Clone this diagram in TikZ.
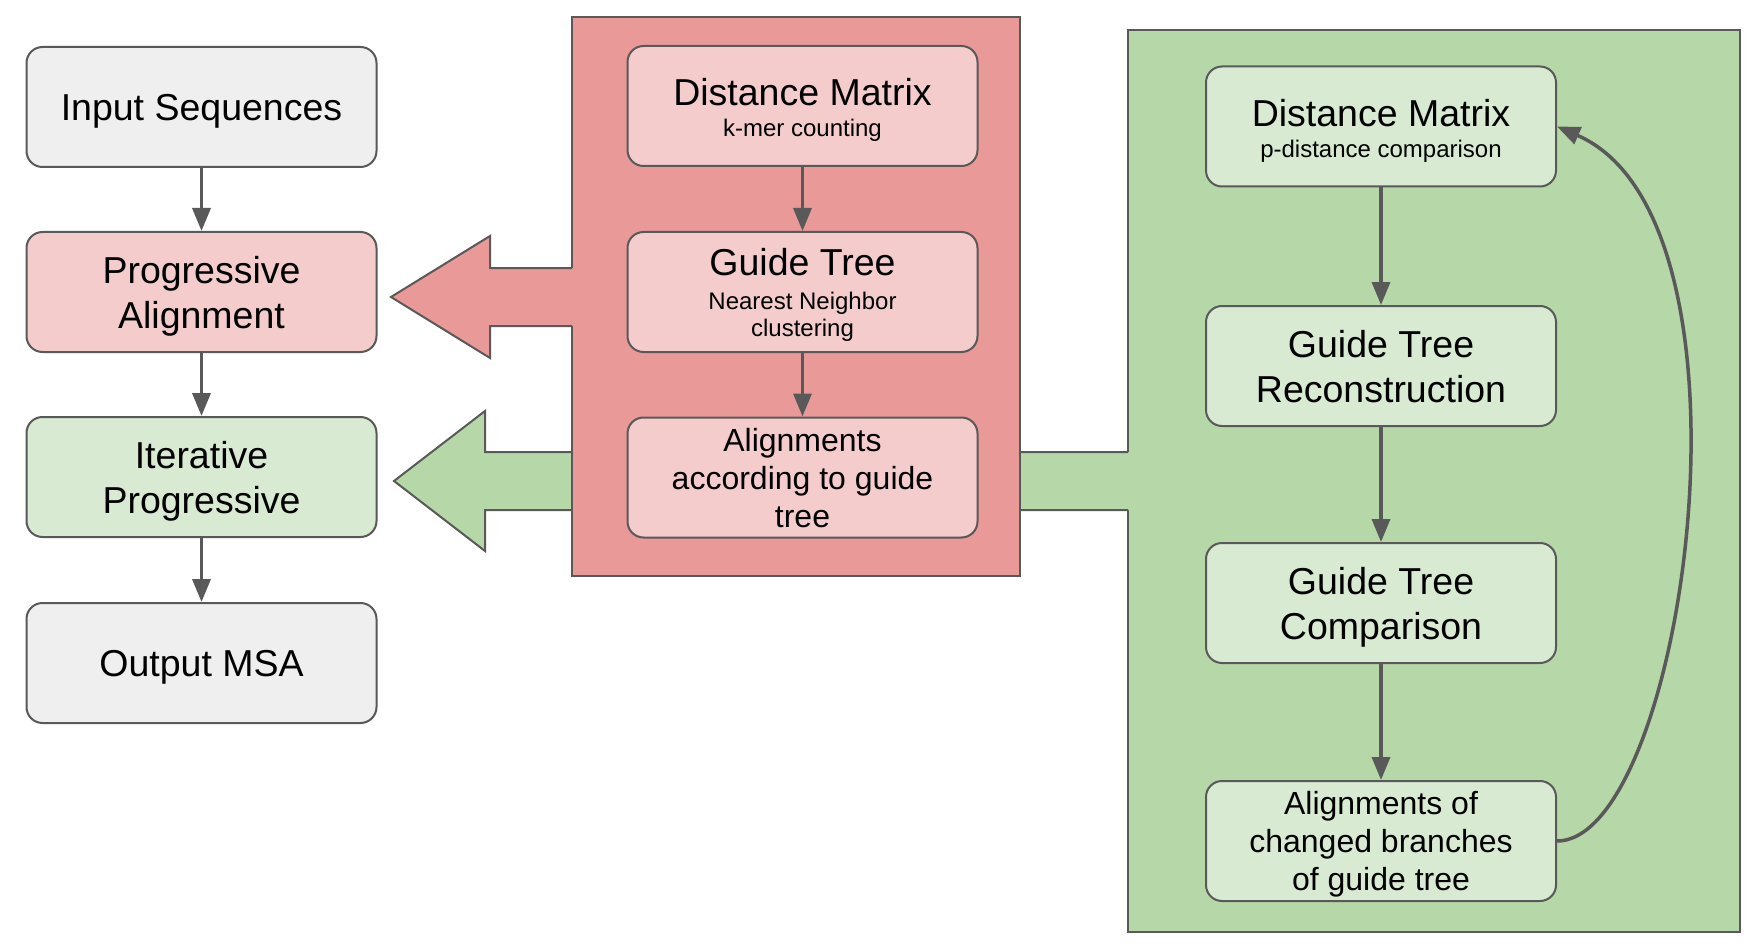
\documentclass[tikz,border=0pt]{standalone}
\usepackage{fontspec}
\setmainfont{Liberation Sans}
\usetikzlibrary{arrows.meta,calc}
\definecolor{bordc}{HTML}{595959}
\definecolor{grayf}{HTML}{EFEFEF}
\definecolor{redl}{HTML}{F4CCCC}
\definecolor{redd}{HTML}{EA9999}
\definecolor{greenl}{HTML}{D9EAD3}
\definecolor{greend}{HTML}{B6D7A8}
\begin{document}
\begin{tikzpicture}[x=1pt,y=-1pt,
  box/.style={draw=bordc, line width=2pt, rounded corners=16pt, minimum width=350pt,
    minimum height=120pt, inner sep=0pt, align=center, text depth=0pt,
    font=\fontsize{37.5}{45}\selectfont},
  smallbox/.style={box, font=\fontsize{32}{38}\selectfont},
  container/.style={draw=bordc, line width=2pt, inner sep=0pt},
  bigline/.style={draw=bordc, line width=2pt, line join=miter},
  title/.style={anchor=base, inner sep=0pt, font=\fontsize{37.5}{45}\selectfont},
  sub/.style={anchor=base, inner sep=0pt, font=\fontsize{24}{28}\selectfont},
  conn/.style={draw=bordc, line width=3.5pt, -{Triangle[length=23pt,width=18pt]}}]
\useasboundingbox (0,0) rectangle (1762,944);
\fill[white] (0,0) rectangle (1762,944);

% green container
\node[container, fill=greend, minimum width=612pt, minimum height=902pt] (gc) at (1434,481) {};
% green big arrow
\fill[greend] (1131,452) -- (485,452) -- (485,411) -- (394,481) -- (485,551) -- (485,510) -- (1131,510) -- cycle;
\draw[bigline] (1128,452) -- (485,452) -- (485,411) -- (394,481) -- (485,551) -- (485,510) -- (1128,510);

% red container
\node[container, fill=redd, minimum width=448pt, minimum height=558.5pt] (rc) at (796,296.75) {};
% red big arrow
\fill[redd] (575,268) -- (490,268) -- (490,236) -- (391,297) -- (490,358) -- (490,326) -- (575,326) -- cycle;
\draw[bigline] (572,268) -- (490,268) -- (490,236) -- (391,297) -- (490,358) -- (490,326) -- (572,326);

% left column
\node[box, fill=grayf] (in) at (201.5,107) {Input Sequences};
\node[box, fill=redl] (pa) at (201.5,292) {Progressive\\Alignment};
\node[box, fill=greenl] (ip) at (201.5,477) {Iterative\\Progressive};
\node[box, fill=grayf] (out) at (201.5,663) {Output MSA};

% red column
\node[box, fill=redl] (dm1) at (802.5,106) {};
\node[title] (dm1t) at ($(dm1.center)+(0,0)$) {Distance Matrix};
\node[sub] (dm1s) at ($(dm1.center)+(0,31)$) {k-mer counting};
\node[box, fill=redl] (gt1) at (802.5,292) {};
\node[title] (gt1t) at ($(gt1.center)+(0,-16)$) {Guide Tree};
\node[sub] (gt1s) at ($(gt1.center)+(0,17)$) {Nearest Neighbor};
\node[sub] (gt1u) at ($(gt1.center)+(0,44)$) {clustering};
\node[smallbox, fill=redl] (al1) at (802.5,477.5) {Alignments\\according to guide\\tree};

% green column
\node[box, fill=greenl] (dm2) at (1381,126.5) {};
\node[title] (dm2t) at ($(dm2.center)+(0,0)$) {Distance Matrix};
\node[sub] (dm2s) at ($(dm2.center)+(0,31)$) {p-distance comparison};
\node[box, fill=greenl] (gtr) at (1381,366) {Guide Tree\\Reconstruction};
\node[box, fill=greenl] (gtc) at (1381,603) {Guide Tree\\Comparison};
\node[smallbox, fill=greenl] (alc) at (1381,841) {Alignments of\\changed branches\\of guide tree};

% connectors
\draw[conn] (in) -- (pa);
\draw[conn] (pa) -- (ip);
\draw[conn] (ip) -- (out);
\draw[conn] (dm1) -- (gt1);
\draw[conn] (gt1) -- (al1);
\draw[conn] (dm2) -- (gtr);
\draw[conn] (gtr) -- (gtc);
\draw[conn] (gtc) -- (alc);
\draw[conn] (alc.east) .. controls (1684,841) and (1772,220) .. (dm2.east);
\end{tikzpicture}
\end{document}
